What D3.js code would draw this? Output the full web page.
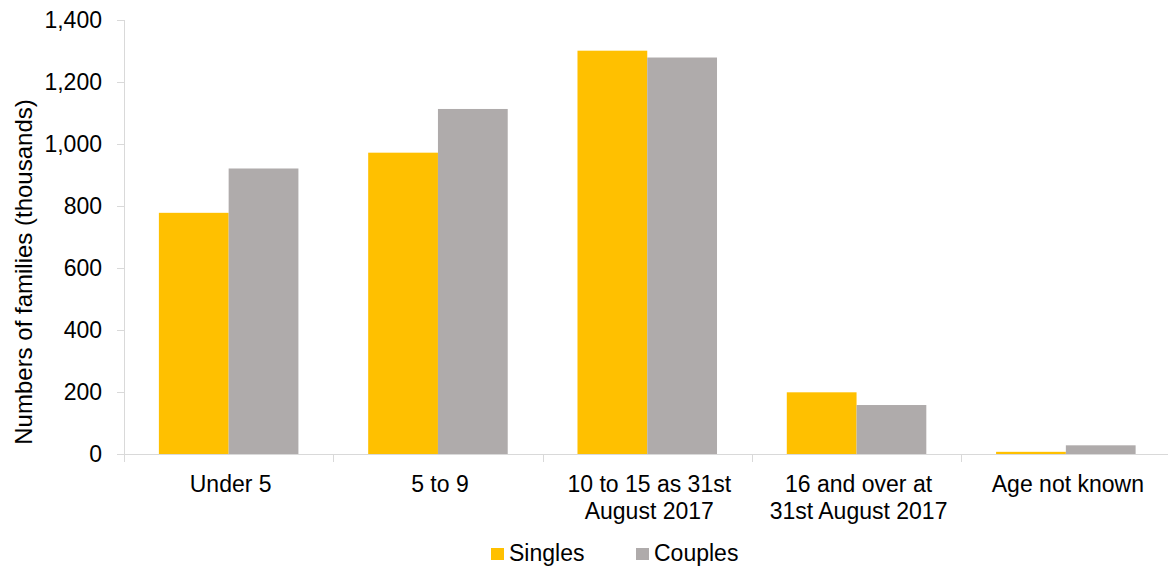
<!DOCTYPE html>
<html>
<head>
<meta charset="utf-8">
<script src="https://cdn.jsdelivr.net/npm/d3@7"></script>
<style>
  body { margin: 0; background: #fff; }
  text { font-family: "Liberation Sans", Arial, sans-serif; fill: #000; }
</style>
</head>
<body>
<div id="chart"></div>
<script>
const width = 1168;
const height = 571;

// data
const categories = ["Under 5", "5 to 9", "10 to 15 as 31st\nAugust 2017", "16 and over at\n31st August 2017", "Age not known"];
const seriesNames = ["Singles", "Couples"];
const singles = [778, 972, 1301, 199, 7];
const couples = [921, 1113, 1279, 158, 28];
const yTicks = [0, 200, 400, 600, 800, 1000, 1200, 1400];

const colours = { Singles: "#FFC000", Couples: "#AFABAB" };
const axisColour = "#D9D9D9";
const fontSize = 23;

const plotLeft = 124;
const plotRight = 1170.5;
const plotTop = 20;
const plotBottom = 454;

let svg = d3.select("#chart").append("svg")
    .attr("width", width)
    .attr("height", height);

let xScale = d3.scaleBand()
    .domain(categories)
    .range([plotLeft, plotRight]);

let sScale = d3.scaleBand()
    .domain(seriesNames)
    .range([0, xScale.bandwidth()])
    .paddingOuter(0.5);

let yScale = d3.scaleLinear()
    .domain([0, 1400])
    .range([plotBottom, plotTop]);

// bars
let rows = categories.map((c, i) => ({ category: c, Singles: singles[i], Couples: couples[i] }));

svg.append("g")
    .selectAll("g")
    .data(rows)
    .join("g")
        .attr("transform", d => `translate(${xScale(d.category)},0)`)
    .selectAll("rect")
    .data(d => seriesNames.map(s => ({ key: s, value: d[s] })))
    .join("rect")
        .attr("x", d => sScale(d.key))
        .attr("y", d => yScale(d.value))
        .attr("width", sScale.bandwidth())
        .attr("height", d => plotBottom - yScale(d.value))
        .attr("fill", d => colours[d.key]);

// y axis
let yAxis = svg.append("g")
    .attr("transform", `translate(${plotLeft},0)`)
    .call(d3.axisLeft(yScale)
        .tickValues(yTicks)
        .tickFormat(d3.format(","))
        .tickSize(7)
        .tickSizeOuter(0)
        .tickPadding(15));
yAxis.select(".domain").attr("stroke", axisColour).attr("d", `M0.5,${plotTop}V${plotBottom + 8}`);
yAxis.selectAll(".tick line").attr("stroke", axisColour);
yAxis.selectAll(".tick text")
    .style("font-size", fontSize + "px")
    .style("font-family", "Liberation Sans, Arial, sans-serif")
    .attr("fill", "#000");

// x axis: baseline, boundary ticks, wrapped labels
let xAxis = svg.append("g");
xAxis.append("line")
    .attr("x1", plotLeft).attr("x2", width)
    .attr("y1", plotBottom + 0.5).attr("y2", plotBottom + 0.5)
    .attr("stroke", axisColour);

xAxis.selectAll(".boundary")
    .data(categories)
    .join("line")
        .attr("class", "boundary")
        .attr("x1", d => Math.round(xScale(d)) + 0.5)
        .attr("x2", d => Math.round(xScale(d)) + 0.5)
        .attr("y1", plotBottom)
        .attr("y2", plotBottom + 8)
        .attr("stroke", axisColour);

xAxis.selectAll(".cat")
    .data(categories)
    .join("text")
        .attr("class", "cat")
        .attr("text-anchor", "middle")
        .style("font-size", fontSize + "px")
        .attr("transform", d => `translate(${xScale(d) + xScale.bandwidth() / 2 + 2},${plotBottom + 38})`)
    .selectAll("tspan")
    .data(d => d.split("\n"))
    .join("tspan")
        .attr("x", 0)
        .attr("dy", (d, i) => i === 0 ? 0 : 27)
        .text(d => d);

// y title
svg.append("text")
    .attr("text-anchor", "middle")
    .attr("dominant-baseline", "central")
    .style("font-size", "24px")
    .attr("transform", "translate(23,272) rotate(-90)")
    .text("Numbers of families (thousands)");

// legend
let legend = svg.append("g")
    .attr("transform", "translate(491,0)");

let legendX = [0, 145];
let item = legend.selectAll("g")
    .data(seriesNames)
    .join("g")
        .attr("transform", (d, i) => `translate(${legendX[i]},0)`);

item.append("rect")
    .attr("y", 548)
    .attr("width", 13)
    .attr("height", 12)
    .attr("fill", d => colours[d]);

item.append("text")
    .attr("x", 18)
    .attr("y", 561)
    .style("font-size", fontSize + "px")
    .text(d => d);
</script>
</body>
</html>
